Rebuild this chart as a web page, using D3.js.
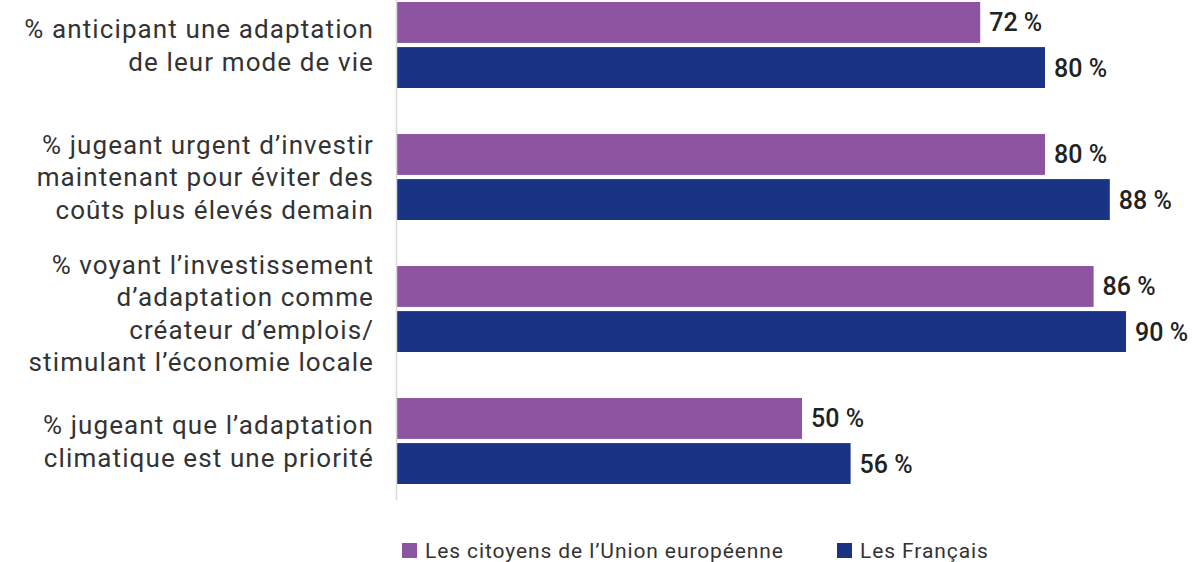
<!DOCTYPE html>
<html>
<head>
<meta charset="utf-8">
<script src="https://cdn.jsdelivr.net/npm/d3@7"></script>
<style>
  body { margin: 0; background: #fff; }
  svg { display: block; font-family: Roboto, "Noto Sans", sans-serif; }
</style>
</head>
<body>
<svg id="chart" width="1198" height="562"></svg>
<script>
// categories, each one split in lines as in the picture
var categories = [
    ['% anticipant une adaptation', 'de leur mode de vie'],
    ['% jugeant urgent d\u2019investir', 'maintenant pour éviter des', 'coûts plus élevés demain'],
    ['% voyant l\u2019investissement', 'd\u2019adaptation comme', 'créateur d\u2019emplois/', 'stimulant l\u2019économie locale'],
    ['% jugeant que l\u2019adaptation', 'climatique est une priorité']
];
var seriesNames = ['Les citoyens de l\u2019Union européenne', 'Les Français'];
var euValues = [72, 80, 86, 50];
var frValues = [80, 88, 90, 56];
var colors = ['#8c54a1', '#1b3384'];

var svg = d3.select('#chart');

var x = d3.scaleLinear().domain([0, 100]).range([397, 1207]);
// groups 132px apart, 86px tall; two 41px bars with a 4px gap
var y0 = d3.scaleBand().domain(d3.range(categories.length)).range([2, 484]).paddingInner(46 / 132).paddingOuter(0);
var y1 = d3.scaleBand().domain([0, 1]).range([0, y0.bandwidth()]).paddingInner(4 / 43);

var data = categories.map(function(c, i) {
    return { lines: c, values: [euValues[i], frValues[i]] };
});

var groups = svg.selectAll('g.group').data(data).enter()
    .append('g').attr('class', 'group')
    .attr('transform', function(d, i) { return 'translate(0,' + y0(i) + ')'; });

groups.selectAll('rect').data(function(d) { return d.values; }).enter()
    .append('rect')
    .attr('x', x(0))
    .attr('y', function(d, j) { return y1(j); })
    .attr('width', function(d) { return x(d) - x(0); })
    .attr('height', y1.bandwidth())
    .attr('fill', function(d, j) { return colors[j]; });

groups.selectAll('text.val').data(function(d) { return d.values; }).enter()
    .append('text').attr('class', 'val')
    .attr('x', function(d) { return x(d) + 9; })
    .attr('y', function(d, j) { return y1(j) + y1.bandwidth() / 2; })
    .attr('dy', '0.36em')
    .attr('font-size', 25)
    .attr('font-weight', 500)
    .attr('fill', '#222')
    .text(function(d) { return d + ' %'; });

// category labels, centred on the group
var lineH = 32.5;
groups.each(function(d) {
    var g = d3.select(this);
    var n = d.lines.length;
    var mid = y0.bandwidth() / 2 + (n > 3 ? 4 : 0);
    g.selectAll('text.cat').data(d.lines).enter()
        .append('text').attr('class', 'cat')
        .attr('x', 374)
        .attr('y', function(l, k) { return mid + (k - (n - 1) / 2) * lineH; })
        .attr('dy', '0.36em')
        .attr('text-anchor', 'end')
        .attr('font-size', 26)
        .attr('letter-spacing', 1.1)
        .attr('fill', '#333')
        .text(function(l) { return l; });
});

// axis line
svg.append('line')
    .attr('x1', x(0) - 0.5).attr('x2', x(0) - 0.5)
    .attr('y1', 0).attr('y2', 500)
    .attr('stroke', '#d9d9d9').attr('stroke-width', 1.5);

// legend
var legendX = [402, 837];
var legend = svg.selectAll('g.legend').data(seriesNames).enter()
    .append('g').attr('class', 'legend')
    .attr('transform', function(d, i) { return 'translate(' + legendX[i] + ',543)'; });
legend.append('rect').attr('width', 15).attr('height', 15)
    .attr('fill', function(d, i) { return colors[i]; });
legend.append('text')
    .attr('x', 23).attr('y', 7).attr('dy', '0.36em')
    .attr('font-size', 21).attr('letter-spacing', 0.9).attr('fill', '#333')
    .text(function(d) { return d; });
</script>
</body>
</html>
